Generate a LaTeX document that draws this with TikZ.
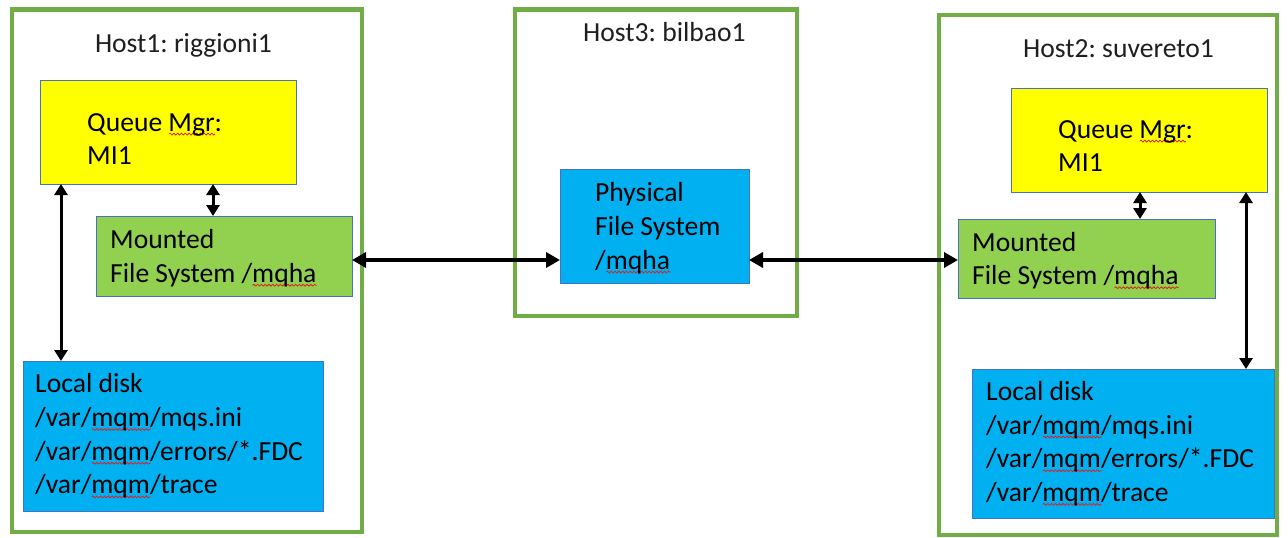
\documentclass[tikz,border=0pt]{standalone}
\usepackage{fontspec}
\setmainfont{Carlito}
\frenchspacing
\usetikzlibrary{arrows.meta,calc,decorations.pathmorphing}

\definecolor{hostgreen}{HTML}{70AD47}
\definecolor{edgeblue}{HTML}{4472C4}
\definecolor{qmyellow}{HTML}{FFFF00}
\definecolor{fsgreen}{HTML}{92D050}
\definecolor{diskblue}{HTML}{00B0F0}
\definecolor{spellred}{HTML}{E02020}

% red wavy underline under words flagged by the spell checker
\newsavebox\spellbox
\newcommand\spell[1]{\sbox\spellbox{#1}\rlap{\tikz[baseline=0pt,x=1pt,y=1pt]\draw[spellred,line width=0.8pt,decorate,decoration={snake,amplitude=0.9pt,segment length=3.8pt}] (0pt,-3pt) -- (\the\wd\spellbox,-3pt);}\usebox\spellbox}

\begin{document}
\begin{tikzpicture}[x=1pt,y=-1pt,
  hostbox/.style={draw=hostgreen,line width=4.5pt,inner sep=0pt,outer sep=0pt,anchor=north west},
  panel/.style={draw=edgeblue,line width=0.9pt,inner sep=0pt,outer sep=0pt,anchor=north west},
  boxtext/.style={font=\fontsize{27.6}{33.7}\selectfont\frenchspacing,align=left,inner sep=0pt,anchor=west},
  hosttitle/.style={font=\fontsize{27.6}{33.7}\selectfont\frenchspacing,inner sep=0pt,anchor=base,text=black!88},
  link/.style={{Triangle[length=14pt,width=15pt]}-{Triangle[length=14pt,width=15pt]},line width=3.5pt},
  vlink/.style={{Triangle[length=11pt,width=13pt]}-{Triangle[length=11pt,width=13pt]},line width=3pt}
]
\useasboundingbox (0,0) rectangle (1288,538);
\fill[white] (0,0) rectangle (1288,538);

% host frames
\node[hostbox,minimum width=350pt,minimum height=522.5pt] (host1) at (12,9.5) {};
\node[hostbox,minimum width=282pt,minimum height=306.5pt] (host3) at (515,9.5) {};
\node[hostbox,minimum width=338pt,minimum height=520pt] (host2) at (939,15) {};

\node[hosttitle] (title1) at (183.5,52) {Host1: riggioni1};
\node[hosttitle] (title3) at (664.5,41) {Host3: bilbao1};
\node[hosttitle] (title2) at (1118.5,57) {Host2: suvereto1};

% Host1 contents
\node[panel,fill=qmyellow,minimum width=256pt,minimum height=104pt] (qm1) at (40,80) {};
\node[panel,fill=fsgreen,minimum width=256pt,minimum height=80pt] (mnt1) at (96,216) {};
\node[panel,fill=diskblue,minimum width=300pt,minimum height=150pt] (loc1) at (23,361) {};

% Host3 contents
\node[panel,fill=diskblue,minimum width=189pt,minimum height=114pt] (phys) at (560,169) {};

% Host2 contents
\node[panel,fill=qmyellow,minimum width=256pt,minimum height=104pt] (qm2) at (1011,88) {};
\node[panel,fill=fsgreen,minimum width=257pt,minimum height=79pt] (mnt2) at (958,219) {};
\node[panel,fill=diskblue,minimum width=302pt,minimum height=149pt] (loc2) at (972,369) {};

% box texts
\node[boxtext] (qm1text) at ([xshift=47pt,yshift=-7pt]qm1.west) {Queue \spell{Mgr}:\\MI1};
\node[boxtext] (mnt1text) at ([xshift=14pt,yshift=-2pt]mnt1.west) {Mounted\\File System /\spell{mqha}};
\node[boxtext] (loc1text) at ([xshift=12pt]loc1.west) {Local disk\\/var/\spell{mqm}/mqs.ini\\/var/\spell{mqm}/errors/*.FDC\\/var/\spell{mqm}/trace};
\node[boxtext] (phystext) at ([xshift=35pt,yshift=-2pt]phys.west) {Physical\\File System\\/\spell{mqha}};
\node[boxtext] (qm2text) at ([xshift=47pt,yshift=-6pt]qm2.west) {Queue \spell{Mgr}:\\MI1};
\node[boxtext] (mnt2text) at ([xshift=14pt,yshift=-2pt]mnt2.west) {Mounted\\File System /\spell{mqha}};
\node[boxtext] (loc2text) at ([xshift=14pt]loc2.west) {Local disk\\/var/\spell{mqm}/mqs.ini\\/var/\spell{mqm}/errors/*.FDC\\/var/\spell{mqm}/trace};

% connector anchor points
\coordinate (qm1drop) at ([xshift=173pt]qm1.south west);
\coordinate (qm1disk) at ([xshift=21pt]qm1.south west);
\coordinate (qm2drop) at ([xshift=129pt]qm2.south west);
\coordinate (qm2disk) at ([xshift=235pt]qm2.south west);
\coordinate (mnt1link) at ([yshift=-4pt]mnt1.east);

% connectors
\draw[vlink] (qm1drop) -- (qm1drop |- mnt1.north);
\draw[vlink] (qm1disk) -- (qm1disk |- loc1.north);
\draw[vlink] (qm2drop) -- (qm2drop |- mnt2.north);
\draw[vlink] (qm2disk) -- (qm2disk |- loc2.north);
\draw[link] (mnt1link) -- (mnt1link -| phys.west);
\draw[link] (mnt1link -| phys.east) -- (mnt1link -| mnt2.west);
\end{tikzpicture}
\end{document}
